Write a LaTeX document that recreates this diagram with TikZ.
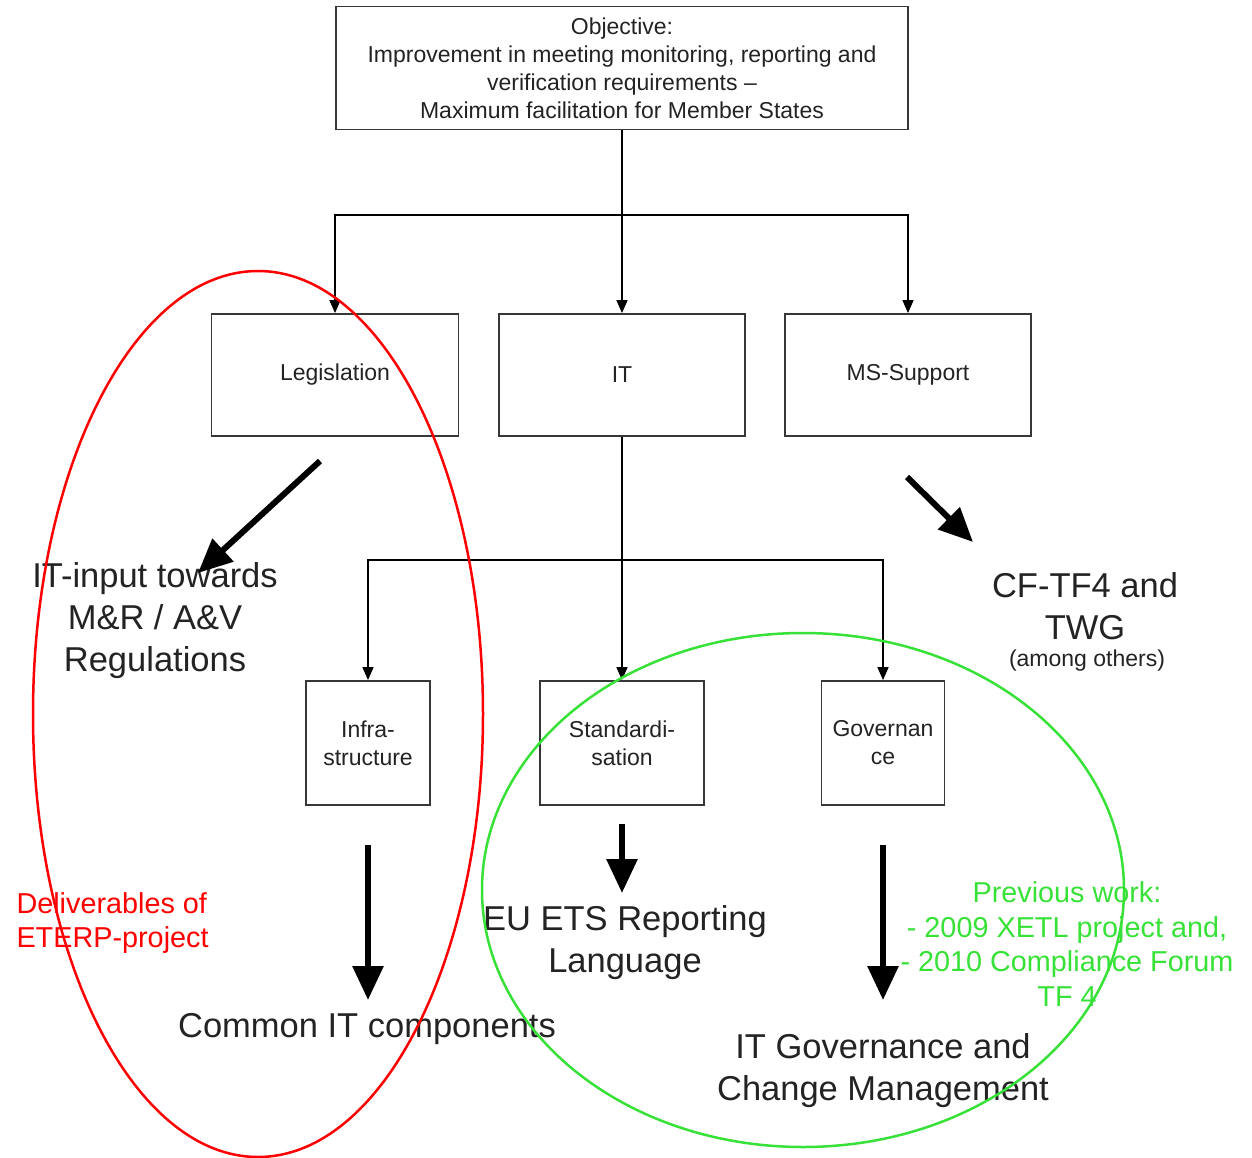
\documentclass[tikz,border=0pt]{standalone}
\usepackage{fontspec}
\setmainfont{Liberation Sans}
\usepackage{xcolor}
\usepackage{tikz}
\usetikzlibrary{arrows.meta, positioning, calc}
\definecolor{boxgray}{RGB}{55,55,55}
\definecolor{txtgray}{RGB}{35,35,35}
\definecolor{ovred}{RGB}{255,0,0}
\definecolor{ovgreen}{RGB}{55,225,55}

\tikzset{
  box/.style={draw=boxgray, line width=1.8pt, align=center, text=txtgray,
    font=\fontsize{23}{28}\selectfont, inner sep=0pt},
  conn/.style={draw=black, line width=1.5pt, -{Triangle[length=13pt,width=11pt]}},
  bigarrow/.style={draw=black, line width=6pt, -{Triangle[length=34pt,width=30pt]}},
  bigtext/.style={align=center, text=txtgray, font=\fontsize{34.5}{42}\selectfont},
  note/.style={align=center, font=\fontsize{28.8}{34.5}\selectfont},
}

\begin{document}
\begin{tikzpicture}[x=1pt, y=-1pt]
\useasboundingbox (0,0) rectangle (1252,1158);

% Objective
\node[box, minimum width=572pt, minimum height=123pt] (obj) at (622,68)
  {Objective:\\Improvement in meeting monitoring, reporting and\\verification requirements --\\Maximum facilitation for Member States};

% First level
\node[box, minimum width=247pt, minimum height=122pt] (leg) at (335,375) {Legislation};
\node[box, minimum width=246pt, minimum height=122pt] (it) at (622,375) {IT};
\node[box, minimum width=246pt, minimum height=122pt] (mss) at (908,375) {MS-Support};

\coordinate (split1) at (622,215);
\draw[conn] (obj.south) -- (it.north);
\draw[conn] (split1) -| (leg.north);
\draw[conn] (split1) -| (mss.north);

% Second level
\node[box, minimum width=124pt, minimum height=124pt] (infra) at (368,743) {Infra-\\structure};
\node[box, minimum width=164pt, minimum height=124pt] (std) at (622,743) {Standardi-\\sation};
\node[box, minimum width=123pt, minimum height=124pt] (gov) at (883,743) {Governan\\ce};

\coordinate (split2) at (622,560);
\draw[conn] (it.south) -- (std.north);
\draw[conn] (split2) -| (infra.north);
\draw[conn] (split2) -| (gov.north);

% Outcomes
\node[bigtext] (itinput) at (155,621) {IT-input towards\\M\&R / A\&V\\Regulations};
\node[bigtext] (cftf) at (1085,606) {CF-TF4 and\\TWG};
\node[text=txtgray, font=\fontsize{23}{28}\selectfont] (among) at (1087,661) {(among others)};
\node[bigtext] (common) at (367,1029) {Common IT components};
\node[bigtext] (ets) at (625,943) {EU ETS Reporting\\Language};
\node[bigtext] (itgov) at (883,1071) {IT Governance and\\Change Management};

% Thick arrows
\coordinate (legtail) at (320,461);
\coordinate (leghead) at (198,573);
\coordinate (msstail) at (907,477);
\coordinate (msshead) at (973,542);
\coordinate (infratail) at (368,845);
\coordinate (infrahead) at (368,1000);
\coordinate (stdtail) at (622,824);
\coordinate (stdhead) at (622,893);
\coordinate (govtail) at (883,845);
\coordinate (govhead) at (883,1000);
\draw[bigarrow] (legtail) -- (leghead);
\draw[bigarrow] (msstail) -- (msshead);
\draw[bigarrow] (infratail) -- (infrahead);
\draw[bigarrow] (stdtail) -- (stdhead);
\draw[bigarrow] (govtail) -- (govhead);

% Notes
\node[note, text=ovred, align=left, anchor=west] (eterp) at (13,923) {Deliverables of\\ETERP-project};
\node[note, text=ovgreen] (prev) at (1067,944) {Previous work:\\- 2009 XETL project and,\\- 2010 Compliance Forum\\TF 4};

% Ellipses
\draw[ovred, line width=2.5pt] (258,714) ellipse [x radius=225pt, y radius=443pt];
\draw[ovgreen, line width=2.5pt] (803,890) ellipse [x radius=321pt, y radius=257pt];
\end{tikzpicture}
\end{document}
